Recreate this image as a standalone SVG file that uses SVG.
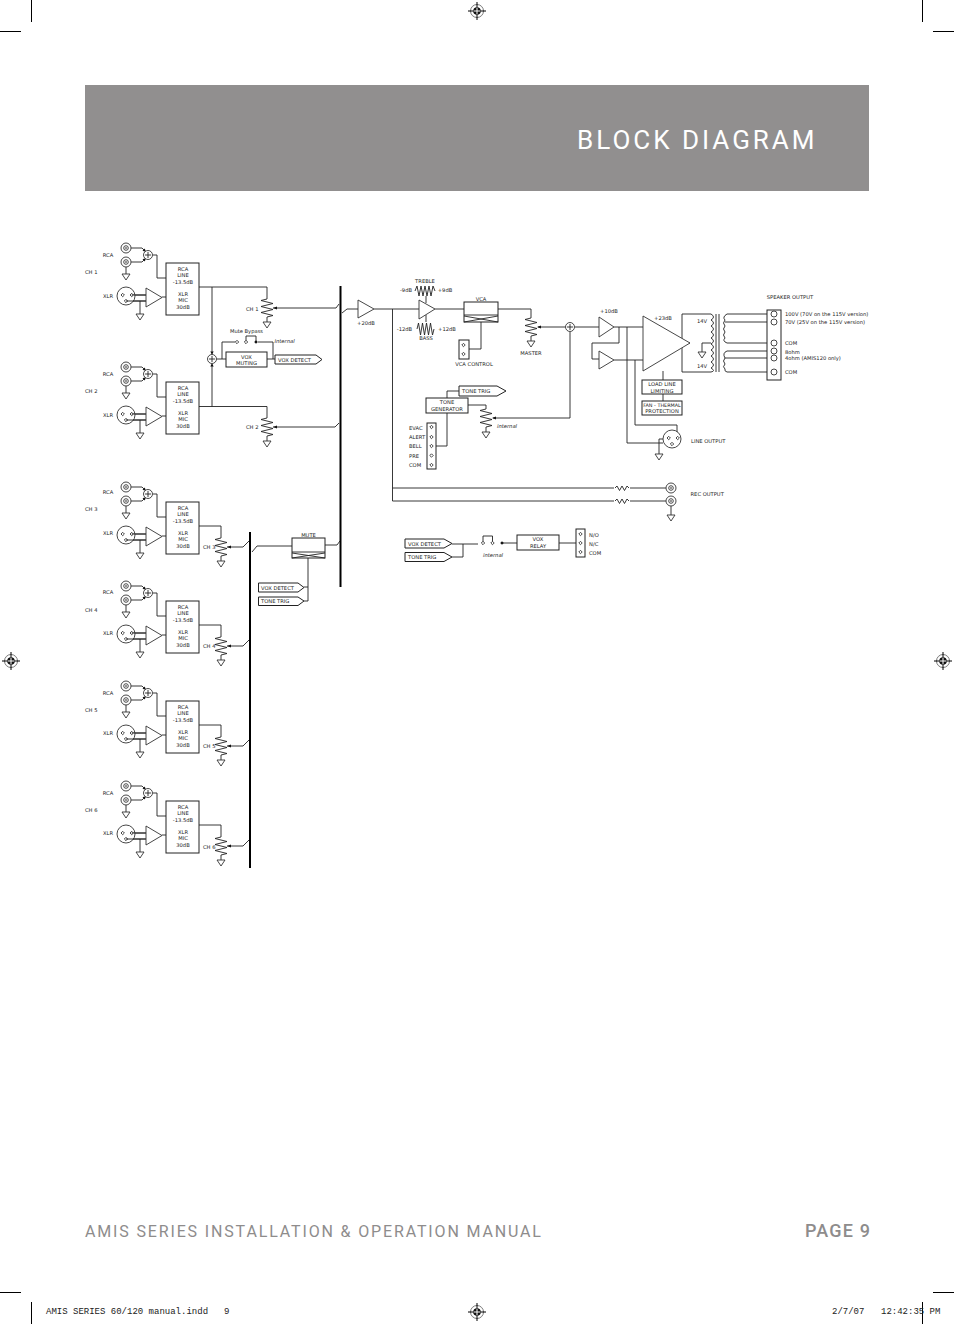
<svg xmlns="http://www.w3.org/2000/svg" width="954" height="1324" viewBox="0 0 954 1324">
<style>
text{font-family:"DejaVu Sans",Verdana,sans-serif;font-size:5.2px;fill:#222}
.m{text-anchor:middle}
.i{font-style:italic}
.w,.wire path{fill:none;stroke:#222;stroke-width:.9}
.b{fill:#fff;stroke:#222;stroke-width:1}
.g{fill:#fff;stroke:#333;stroke-width:.9}
.k{fill:#111;stroke:none}
.bus{stroke:#000;stroke-width:2;fill:none}
.crop{stroke:#000;stroke-width:1;fill:none}
.head{font-family:"Roboto","DejaVu Sans",sans-serif;fill:#fff;font-size:26px;letter-spacing:3px}
.foot{font-family:"Roboto","DejaVu Sans",sans-serif;fill:#8e8c8c;font-size:16px;letter-spacing:1.85px}
.slug{font-family:"Liberation Mono",monospace;font-size:9px;fill:#222}
</style>
<defs>
<g id="gnd"><path class="g" d="M-4 0H4L0 6Z"/></g>
<g id="pot"><path class="w" d="M0 0L-6 1.500L6 4.500L-6 7.500L6 10.500L-6 13.500L6 16.500L0 18V23"/><path class="k" d="M6 9L10 7.500V10.500Z"/><use href="#gnd" y="23"/></g>
<g id="sum"><circle class="g" r="4.500"/><path class="w" d="M-3 0H3M0-3V3"/></g>
<g id="dia"><path class="g" d="M0-1.700L1.700 0L0 1.700L-1.700 0Z"/></g>
<g id="dot"><path class="k" d="M0-1.800L1.800 0L0 1.800L-1.800 0Z"/></g>
<g id="rca"><circle class="g" r="5"/><circle class="g" r="2.300"/><circle class="k" r=".8"/></g>
<g id="xlr"><circle class="g" r="9"/><use href="#dia" x="-3.300" y="-1"/><use href="#dia" x="5.700" y="-1"/><use href="#dia" y="5"/></g>
<g id="input">
<path class="w" d="M131 248H142L146 252M131 262H142L146 258M126 267V274M153 255H157V278H166M131.700 295H146M126 301H146M140 301V314M162 297H166"/>
<path class="k" d="M146 252L142.500 250.800L144.800 248.500ZM146 258L142.500 259.200L144.800 261.500Z"/>
<use href="#rca" x="126" y="248"/><use href="#rca" x="126" y="262"/><use href="#gnd" x="126" y="274"/>
<use href="#sum" x="148" y="255"/><use href="#xlr" x="126" y="296"/>
<path class="w" d="M131.700 295H146M126 301H146"/>
<path class="g" d="M146 288V307L162 297.500Z"/><use href="#gnd" x="140" y="314"/>
<rect class="b" x="166" y="263" width="33" height="52"/>
</g>
<g id="reg"><circle cx="0" cy="0" r="6.500" fill="#fff" stroke="#777" stroke-width="1"/><circle r="3.800" fill="#111"/><path d="M-3.800 0H3.800M0-3.800V3.800" stroke="#fff" stroke-width="1"/><path d="M-9 0H-3M3 0H9M0-9V-3M0 3V9" stroke="#000" stroke-width="1"/></g>
</defs>
<rect width="954" height="1324" fill="#fff"/>

<g id="page">
<rect id="header" x="85" y="85" width="784" height="106" fill="#918f8f"/>
<text class="head" x="577" y="149">BLOCK DIAGRAM</text>
<text class="foot" x="85" y="1237">AMIS SERIES INSTALLATION &amp; OPERATION MANUAL</text>
<text class="foot" x="805" y="1237" style="font-size:18px;font-weight:500;letter-spacing:1.2px">PAGE 9</text>
<path class="crop" d="M31.500 0V22M0 31.500H21M922.500 0V22M933 31.500H954M0 1292.500H21M933 1292.500H954M31.500 1302V1324M922.500 1302V1324"/>
<use href="#reg" x="477" y="11"/><use href="#reg" x="477" y="1312"/><use href="#reg" x="11" y="661"/><use href="#reg" x="943" y="661"/>
<text class="slug" x="46" y="1314">AMIS SERIES 60/120 manual.indd</text><text class="slug" x="224" y="1314">9</text>
<text class="slug" x="832" y="1314">2/7/07</text><text class="slug" x="881" y="1314">12:42:35 PM</text>
</g>

<g id="connectors" class="wire">
<path d="M199 287H267V299M273 308H336L339 304M199 406.500H267V418M273 427H335L339 423M342 313L347 309H358"/>
<path d="M212 287V354.500M212 364V406.500M216.500 359H226M222 359V342H235M258 342H273V359M267 359H275M246 342V336H256V342"/>
<path d="M199 526H221V538M227 547H243L249 541M199 625H221V637M227 646H243L249 640M199 725H221V737M227 746H243L249 740M199 825H221V837M227 846H243L249 840"/>
<path d="M252 552L257 546H292M325 545H337L340 541M308 558V601H304M308 587H304"/>
<path d="M374 309H419M392.500 309V501H614M392.500 488H614M435 309H464M426 296V303M426 322V315M481 322V349H469M498 309H531V318M538 327H565.500M575 327H599M570 332V418H493"/>
<path d="M447 398V391H459M468 405H486V409M447 413V446H435"/>
<path d="M614 327H643M614 360H643M619 327V343H592V359H599M627 327V443H663M635 360V425H677V433M663 371V380M663 394V401M659 439H663M659 439V454"/>
<path d="M690 343H682M682 314V372M682 314H711M682 372H711M702 352V343H711M727 314H771M725 322H771M727 343H771M727 351H771M725 358H771M727 372H771"/>
<path d="M630 488H666M630 501H666M671 506V515M452 544H478M452 557H463V544M483 543V536H492.500V543M503 543H517M559 543H576"/>
<path d="M615 488L617 486L619.500 490.500L622 486L624.500 490.500L627 486L629 488M615 501L617 499L619.500 503.500L622 499L624.500 503.500L627 499L629 501"/>
</g>

<g id="bus-a"><path class="bus" d="M340.500 286V587"/></g>
<g id="bus-b"><path class="bus" d="M250 532V868"/></g>

<g id="ch1"><use href="#input"/>
<text x="85" y="274">CH 1</text><text class="m" x="108" y="257">RCA</text><text class="m" x="108" y="298">XLR</text>
<text class="m" x="183" y="271">RCA</text><text class="m" x="183" y="277">LINE</text><text class="m" x="183" y="283.500">-13.5dB</text><text class="m" x="183" y="295.500">XLR</text><text class="m" x="183" y="302">MIC</text><text class="m" x="183" y="308.500">30dB</text></g>
<g id="ch2" transform="translate(0 119)"><use href="#input"/>
<text x="85" y="274">CH 2</text><text class="m" x="108" y="257">RCA</text><text class="m" x="108" y="298">XLR</text>
<text class="m" x="183" y="271">RCA</text><text class="m" x="183" y="277">LINE</text><text class="m" x="183" y="283.500">-13.5dB</text><text class="m" x="183" y="295.500">XLR</text><text class="m" x="183" y="302">MIC</text><text class="m" x="183" y="308.500">30dB</text></g>
<g id="ch3" transform="translate(0 239)"><use href="#input"/>
<text x="85" y="272">CH 3</text><text class="m" x="108" y="255">RCA</text><text class="m" x="108" y="296">XLR</text>
<text class="m" x="183" y="271">RCA</text><text class="m" x="183" y="277">LINE</text><text class="m" x="183" y="283.500">-13.5dB</text><text class="m" x="183" y="295.500">XLR</text><text class="m" x="183" y="302">MIC</text><text class="m" x="183" y="308.500">30dB</text></g>
<g id="ch4" transform="translate(0 338)"><use href="#input"/>
<text x="85" y="274">CH 4</text><text class="m" x="108" y="256">RCA</text><text class="m" x="108" y="297">XLR</text>
<text class="m" x="183" y="271">RCA</text><text class="m" x="183" y="277">LINE</text><text class="m" x="183" y="283.500">-13.5dB</text><text class="m" x="183" y="295.500">XLR</text><text class="m" x="183" y="302">MIC</text><text class="m" x="183" y="308.500">30dB</text></g>
<g id="ch5" transform="translate(0 438)"><use href="#input"/>
<text x="85" y="274">CH 5</text><text class="m" x="108" y="257">RCA</text><text class="m" x="108" y="297">XLR</text>
<text class="m" x="183" y="271">RCA</text><text class="m" x="183" y="277">LINE</text><text class="m" x="183" y="283.500">-13.5dB</text><text class="m" x="183" y="295.500">XLR</text><text class="m" x="183" y="302">MIC</text><text class="m" x="183" y="308.500">30dB</text></g>
<g id="ch6" transform="translate(0 538)"><use href="#input"/>
<text x="85" y="274">CH 6</text><text class="m" x="108" y="257">RCA</text><text class="m" x="108" y="297">XLR</text>
<text class="m" x="183" y="271">RCA</text><text class="m" x="183" y="277">LINE</text><text class="m" x="183" y="283.500">-13.5dB</text><text class="m" x="183" y="295.500">XLR</text><text class="m" x="183" y="302">MIC</text><text class="m" x="183" y="308.500">30dB</text></g>

<g id="pot-ch1"><use href="#pot" x="267" y="299"/><text x="246" y="311">CH 1</text></g>
<g id="pot-ch2"><use href="#pot" x="267" y="418"/><text x="246" y="429">CH 2</text></g>
<g id="pot-ch3"><use href="#pot" x="221" y="538"/><text x="203" y="548.500">CH 3</text></g>
<g id="pot-ch4"><use href="#pot" x="221" y="637"/><text x="203" y="648">CH 4</text></g>
<g id="pot-ch5"><use href="#pot" x="221" y="737"/><text x="203" y="748">CH 5</text></g>
<g id="pot-ch6"><use href="#pot" x="221" y="837"/><text x="203" y="848.500">CH 6</text></g>

<g id="vox-sum"><use href="#sum" x="212" y="359"/><path class="k" d="M212 354.500L210.300 351.500H213.700ZM212 363.500L210.300 366.500H213.700Z"/></g>
<g id="vox-muting"><rect class="b" x="226" y="352" width="41" height="15"/><text class="m" x="246.500" y="358.500">VOX</text><text class="m" x="246.500" y="364.500">MUTING</text></g>
<g id="mute-bypass"><use href="#dia" x="237" y="342"/><use href="#dia" x="246" y="342"/><use href="#dot" x="256" y="342"/><text class="m" x="246.500" y="332.500">Mute Bypass</text><text class="i" x="274.500" y="343">Internal</text></g>
<g id="vox-detect-1"><path class="b" d="M275 355H316L322 359.500L316 364H275Z"/><text x="278" y="361.500">VOX DETECT</text></g>

<g id="mute"><rect class="b" x="292" y="538" width="33" height="20"/><path class="w" d="M292 552H325M292 553L325 558M292 558L325 553"/><text class="m" x="308.500" y="537">MUTE</text></g>
<g id="vox-detect-2"><path class="b" d="M258.500 583H298L304 587.500L298 592H258.500Z"/><text x="261" y="589.500">VOX DETECT</text></g>
<g id="tone-trig-1"><path class="b" d="M258.500 597H298L304 601L298 605.500H258.500Z"/><text x="261" y="603">TONE TRIG</text></g>

<g id="amp-20"><path class="g" d="M358 300V318L374 309Z"/><text class="m" x="366" y="325">+20dB</text></g>
<g id="tone-amp">
<path class="w" d="M415 291L417 286L419 296L421 286L423 296L425 286L427 296L429 286L431 296L433 286L435 291M417 329L418.500 323L420.500 335L422.500 323L424.500 335L426.500 323L428.500 335L430.500 323L432.500 335L434 329"/>
<path class="g" d="M419 300V319L435 309Z"/>
<text class="m" x="425" y="283">TREBLE</text><text class="m" x="406" y="291.500">-9dB</text><text class="m" x="445" y="291.500">+9dB</text><text class="m" x="404.500" y="331">-12dB</text><text class="m" x="447" y="331">+12dB</text><text class="m" x="426" y="340">BASS</text></g>
<g id="vca"><rect class="b" x="464" y="302" width="34" height="20"/><path class="w" d="M464 315H498M464 316L498 322M464 322L498 316"/><text class="m" x="481" y="301">VCA</text></g>
<g id="vca-control"><rect class="b" x="459" y="340" width="10" height="19"/><use href="#dia" x="463.500" y="345"/><use href="#dia" x="463.500" y="354"/><text class="m" x="474" y="365.500">VCA CONTROL</text></g>
<g id="master"><use href="#pot" x="531" y="318"/><text class="m" x="531" y="354.500">MASTER</text></g>
<g id="sum-main"><use href="#sum" x="570" y="327"/></g>
<g id="tone-trig-2"><path class="b" d="M459 386H497L506 391L497 396H459Z"/><text x="462" y="393">TONE TRIG</text></g>
<g id="tone-generator"><rect class="b" x="426" y="398" width="42" height="15"/><text class="m" x="447" y="404">TONE</text><text class="m" x="447" y="410.500">GENERATOR</text></g>
<g id="tone-pot"><use href="#pot" x="486" y="409"/><text class="i" x="497" y="427.500">internal</text></g>
<g id="alarm-inputs"><rect class="b" x="427" y="423" width="9" height="46"/><use href="#dia" x="431.500" y="427"/><use href="#dia" x="431.500" y="437"/><use href="#dia" x="431.500" y="446"/><use href="#dia" x="431.500" y="455.500"/><use href="#dia" x="431.500" y="465"/>
<text x="409" y="429.500">EVAC</text><text x="409" y="439">ALERT</text><text x="409" y="448">BELL</text><text x="409" y="457.500">PRE</text><text x="409" y="466.500">COM</text></g>

<g id="amp-10"><path class="g" d="M599 317V337L614 327Z"/><path class="g" d="M599 351V369L614 360Z"/><text class="m" x="609" y="313">+10dB</text></g>
<g id="power-amp"><path class="g" d="M643 316V371L690 343Z"/><text class="m" x="663" y="319.500">+23dB</text></g>
<g id="load-line"><rect class="b" x="642" y="380" width="40" height="14"/><text class="m" x="662" y="386">LOAD LINE</text><text class="m" x="662" y="392.500">LIMITING</text></g>
<g id="fan-thermal"><rect class="b" x="642" y="401" width="40" height="14"/><text class="m" x="662" y="407" style="font-size:4.900px">FAN - THERMAL</text><text class="m" x="662" y="413">PROTECTION</text></g>
<g id="transformer">
<path class="w" d="M711 314Q716 317 711 320Q716 323 711 326Q716 329 711 332Q716 335 711 338Q716 341 711 344Q716 347 711 350Q716 353 711 356Q716 359 711 362Q716 365 711 368Q716 371 711 372"/>
<path class="w" d="M727 314Q722 317 725 320Q722 323 725 326Q722 329 725 332Q722 335 725 338Q722 341 727 343M727 351Q722 353 725 358Q722 361 725 364Q722 367 725 369Q724 371 727 372M716 314V372M719 314V372"/>
<use href="#gnd" x="702" y="352"/><text class="m" x="702" y="323">14V</text><text class="m" x="702" y="368">14V</text></g>
<g id="speaker-output"><rect class="b" x="767" y="310" width="14" height="70"/>
<circle class="g" cx="774" cy="314" r="3"/><circle class="g" cx="774" cy="322" r="3"/><circle class="g" cx="774" cy="343" r="3"/><circle class="g" cx="774" cy="351" r="3"/><circle class="g" cx="774" cy="358" r="3"/><circle class="g" cx="774" cy="372" r="3"/>
<text class="m" x="790" y="298.500">SPEAKER OUTPUT</text><text x="785" y="316">100V (70V on the 115V version)</text><text x="785" y="324">70V (25V on the 115V version)</text><text x="785" y="345">COM</text><text x="785" y="353.500">8ohm</text><text x="785" y="360">4ohm (AMIS120 only)</text><text x="785" y="374">COM</text></g>
<g id="line-output"><use href="#xlr" x="672" y="439"/><use href="#gnd" x="659" y="454"/><text x="691" y="443">LINE OUTPUT</text></g>
<g id="rec-output"><use href="#rca" x="671" y="488"/><use href="#rca" x="671" y="501"/><use href="#gnd" x="671" y="515"/><text x="690.500" y="495.500">REC OUTPUT</text></g>
<g id="vox-detect-3"><path class="b" d="M405 539H444L452 543.500L444 548H405Z"/><text x="408" y="545.500">VOX DETECT</text></g>
<g id="tone-trig-3"><path class="b" d="M405 552.500H444L452 557L444 561.500H405Z"/><text x="408" y="559">TONE TRIG</text></g>
<g id="relay-switch"><use href="#dia" x="483" y="543"/><use href="#dia" x="492.500" y="543"/><use href="#dot" x="502" y="543"/><text class="m i" x="493" y="556.500">internal</text></g>
<g id="vox-relay"><rect class="b" x="517" y="535" width="42" height="15"/><text class="m" x="538" y="541">VOX</text><text class="m" x="538" y="547.500">RELAY</text></g>
<g id="relay-contacts"><rect class="b" x="576" y="529" width="9" height="28"/><use href="#dia" x="580.500" y="534"/><use href="#dia" x="580.500" y="543"/><use href="#dia" x="580.500" y="552"/><text x="589" y="536.500">N/O</text><text x="589" y="545.500">N/C</text><text x="589" y="554.500">COM</text></g>
</svg>
